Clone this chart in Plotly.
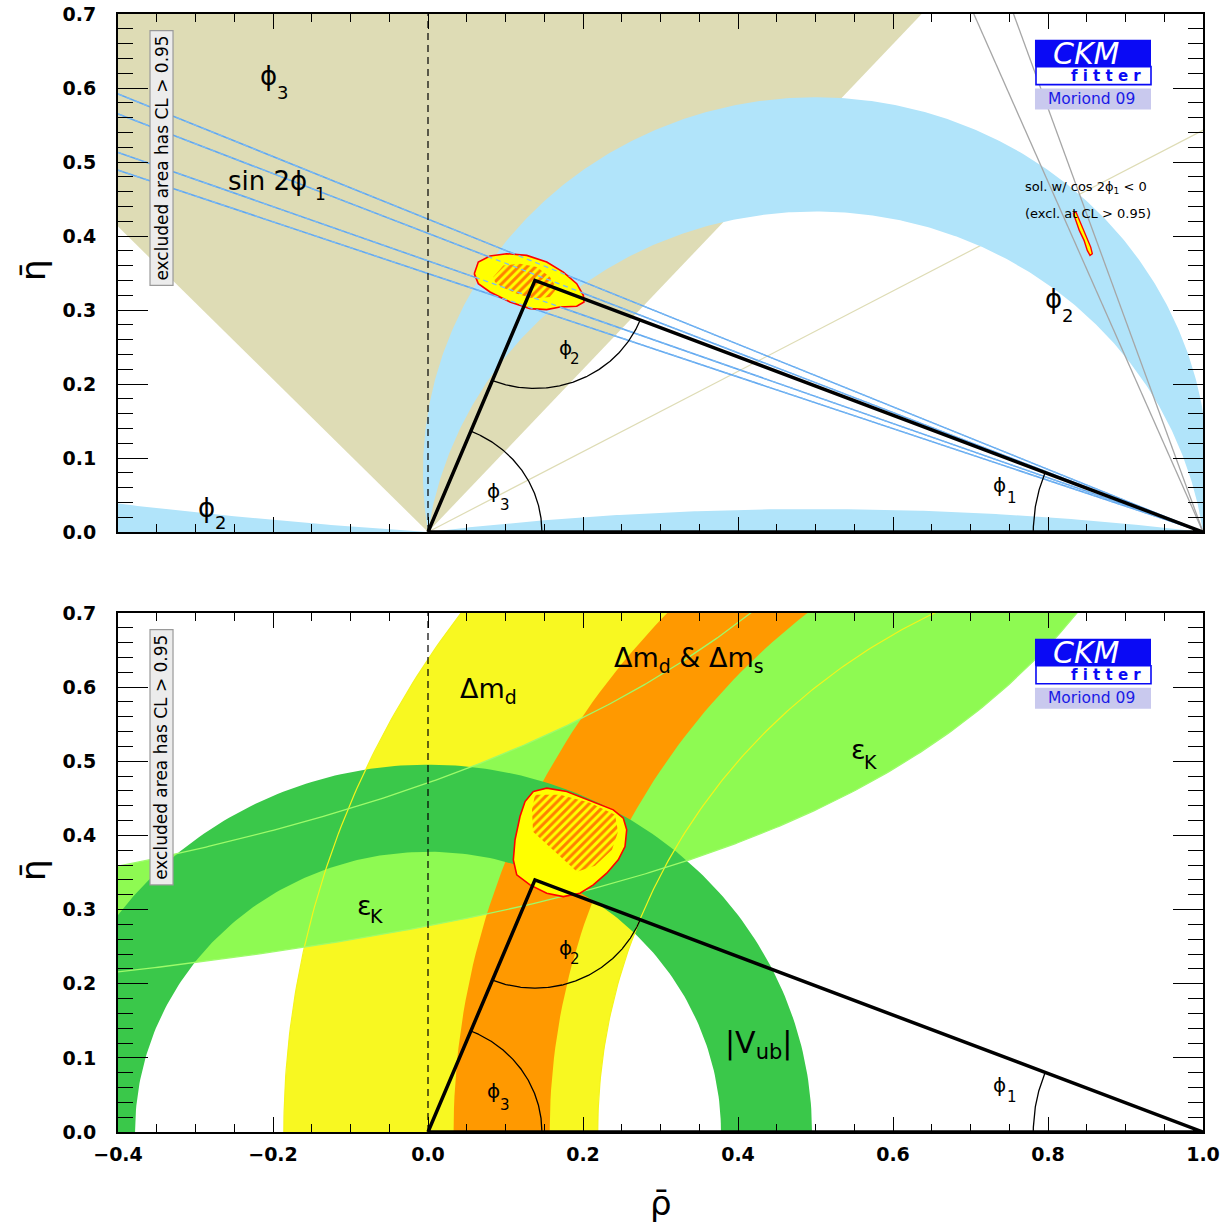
import numpy as np
import plotly.graph_objects as go

# ---------------- data ----------------
X_RANGE = [-0.4, 1.0]
Y_RANGE = [0.0, 0.7]

apex = [0.138, 0.340]                      # (rho, eta) of the triangle apex
arc_radius = {"phi3": 0.147, "phi2": 0.146, "phi1": 0.219}

# top panel constraints
gamma_wedge_deg = [47.7, 134.1]            # phi3 allowed wedge from origin
gamma_line_deg = 28.5                      # thin phi3 line
alpha_band_deg = [80.8, 98.2]              # phi2 band (inscribed angle)
alpha_lens_deg = 172.9                     # phi2 thin lens above axis
alpha_left_deg = 3.9                       # phi2 sliver for rho<0
sin2b_eta_left = [0.592, 0.565, 0.513, 0.489]   # sin2phi1 lines, eta at rho=-0.4
gray_beta_deg = [67.1, 70.75]              # cos2phi1<0 solution lines

blob_top_rho = [0.0597, 0.0649, 0.0800, 0.1015, 0.1274, 0.1532, 0.1746, 0.1919, 0.2004,
                0.2013, 0.1919, 0.1703, 0.1532, 0.1316, 0.1058, 0.0800, 0.0649]
blob_top_eta = [0.3491, 0.3648, 0.3729, 0.3761, 0.3738, 0.3648, 0.3513, 0.3356, 0.3198,
                0.3108, 0.3050, 0.3040, 0.3005, 0.3019, 0.3108, 0.3243, 0.3356]
hatch_top_rho = [0.0843, 0.0972, 0.1187, 0.1403, 0.1574, 0.1661, 0.1574, 0.1359, 0.1145, 0.0951, 0.0865]
hatch_top_eta = [0.3445, 0.3603, 0.3626, 0.3580, 0.3445, 0.3289, 0.3175, 0.3154, 0.3221, 0.3310, 0.3378]
small_blob_rho = [0.8326, 0.8361, 0.8404, 0.8465, 0.8507, 0.8542, 0.8572, 0.8551, 0.8499, 0.8448, 0.8404, 0.8361]
small_blob_eta = [0.4309, 0.4211, 0.4076, 0.3941, 0.3806, 0.3738, 0.3761, 0.3850, 0.3985, 0.4099, 0.4233, 0.4323]

# bottom panel constraints
dmd_center, dmd_radii = [1.0, 0.0], [0.781, 1.186]
dms_center, dms_radii = [1.06, 0.0], [0.903, 1.027]
vub_center, vub_radii = [0.0, 0.0], [0.378, 0.4955]
epsK_upper = [0.599, 1.272]     # eta = K / (c - rho)
epsK_lower = [0.386, 1.389]

blob_bot_rho = [0.1359, 0.1532, 0.1790, 0.2133, 0.2391, 0.2520, 0.2564, 0.2542, 0.2455, 0.2306,
                0.2133, 0.1961, 0.1746, 0.1532, 0.1316, 0.1145, 0.1101, 0.1123, 0.1187, 0.1252]
blob_bot_eta = [0.4592, 0.4638, 0.4592, 0.4457, 0.4345, 0.4233, 0.4076, 0.3850, 0.3671, 0.3491,
                0.3333, 0.3221, 0.3175, 0.3221, 0.3333, 0.3468, 0.3671, 0.3941, 0.4255, 0.4457]
hatch_bot_rho = [0.1381, 0.1703, 0.2090, 0.2413, 0.2452, 0.2374, 0.2155, 0.1923, 0.1639, 0.1355, 0.1342]
hatch_bot_eta = [0.4548, 0.4548, 0.4440, 0.4278, 0.4049, 0.3806, 0.3590, 0.3509, 0.3779, 0.4049, 0.4345]

# labels with a low subscript: (main, sub, main xy, sub xy, main size, sub size)
phi_labels_top = [
    ("\u03d5", "3", (-0.2194, 0.6161), (-0.1974, 0.5945), 26, 18),
    ("sin 2\u03d5", "1", (-0.2606, 0.4737), (-0.1484, 0.4561), 26, 17),
    ("\u03d5", "2", (0.7935, 0.3144), (0.8155, 0.2922), 26, 18),
    ("\u03d5", "2", (-0.2994, 0.0331), (-0.2774, 0.0128), 26, 18),
]
phi_labels_both = [
    ("\u03d5", "2", (0.1661, 0.2483), (0.1806, 0.2335), 20, 15),
    ("\u03d5", "3", (0.0735, 0.0553), (0.0903, 0.0364), 20, 15),
    ("\u03d5", "1", (0.7265, 0.0634), (0.7445, 0.0466), 20, 15),
]
eps_labels = [
    ("\u03b5", "K", (0.5428, 0.5162), (0.5600, 0.4993), 27, 19),
    ("\u03b5", "K", (-0.0942, 0.3055), (-0.0774, 0.2915), 27, 19),
]

# colours
TAN = "#dedcb5"
LBLUE = "#b1e4fa"
BLUE_LINE = "#5fa6f0"
GRAY = "#a6a6a6"
YEL = "#f8f821"
ORANGE = "#ff9900"
LGREEN = "#8efa52"
DGREEN = "#3ac84a"
FONT = "DejaVu Sans"

fig = go.Figure()


def ax(row):
    return ("x", "y") if row == 1 else ("x2", "y2")


def poly(xs, ys, color, row, line=None, pattern=None):
    xa, ya = ax(row)
    kw = dict(x=list(xs), y=list(ys), mode="lines", fill="toself", fillcolor=color,
              line=line or dict(width=0, color=color), hoverinfo="skip",
              showlegend=False, xaxis=xa, yaxis=ya)
    if pattern:
        kw["fillpattern"] = pattern
    fig.add_trace(go.Scatter(**kw))


def line(xs, ys, color, width, row, dash=None):
    xa, ya = ax(row)
    fig.add_trace(go.Scatter(x=list(xs), y=list(ys), mode="lines",
                             line=dict(color=color, width=width, dash=dash),
                             hoverinfo="skip", showlegend=False, xaxis=xa, yaxis=ya))


def arc(cx, cy, r, a0, a1, n=200):
    t = np.linspace(a0, a1, n)
    return cx + r * np.cos(t), cy + r * np.sin(t)


def chord_circle(alpha_deg):
    a = np.radians(alpha_deg)
    return 0.5 / np.tan(a), 0.5 / np.sin(a)


def annulus(center, radii, color, row):
    cx, cy = center
    xo, yo = arc(cx, cy, radii[1], 0, np.pi)
    xi, yi = arc(cx, cy, radii[0], np.pi, 0)
    poly(np.r_[xo, xi], np.r_[yo, yi], color, row)


HATCH = dict(shape="/", fgcolor="#ff0000", bgcolor="#ffff00", size=6, solidity=0.5)

# ================= TOP PANEL =================
g0, g1 = np.radians(gamma_wedge_deg)
poly([0, 3 * np.cos(g0), 3 * np.cos(g1), 0], [0, 3 * np.sin(g0), 3 * np.sin(g1), 0], TAN, 1)
gl = np.radians(gamma_line_deg)
line([0, 2 * np.cos(gl)], [0, 2 * np.sin(gl)], TAN, 1.2, 1)

k_o, r_o = chord_circle(alpha_band_deg[0])
k_i, r_i = chord_circle(alpha_band_deg[1])
th_o = np.arctan2(-k_o, 0.5)
th_i = np.arctan2(-k_i, 0.5)
xo, yo = arc(0.5, k_o, r_o, th_o, np.pi - th_o, 400)
xi, yi = arc(0.5, k_i, r_i, np.pi - th_i, th_i, 400)
poly(np.r_[xo, xi], np.r_[yo, yi], LBLUE, 1)
k_l, r_l = chord_circle(alpha_lens_deg)
th_l = np.arctan2(-k_l, 0.5)
xl, yl = arc(0.5, k_l, r_l, th_l, np.pi - th_l, 300)
poly(xl, yl, LBLUE, 1)
k_s, r_s = chord_circle(alpha_left_deg)
th_s0 = np.arctan2(-k_s, -0.5)
xs_, ys_ = arc(0.5, k_s, r_s, th_s0, th_s0 - 0.17, 200)
poly(np.r_[xs_, xs_[-1], 0], np.r_[ys_, 0, 0], LBLUE, 1)

for b in gray_beta_deg:
    br = np.radians(b)
    line([1, 1 - np.cos(br)], [0, np.sin(br)], GRAY, 1.3, 1)

for e in sin2b_eta_left:
    line([X_RANGE[0], 1.0], [e, 0.0], BLUE_LINE, 1.5, 1)

poly(blob_top_rho + blob_top_rho[:1], blob_top_eta + blob_top_eta[:1], "#ffff00", 1,
     line=dict(color="#ff0000", width=1.6))
poly(hatch_top_rho + hatch_top_rho[:1], hatch_top_eta + hatch_top_eta[:1], "#ffff00", 1,
     line=dict(width=0, color="#ffff00"), pattern=HATCH)
for e in sin2b_eta_left:
    line([X_RANGE[0], 1.0], [e, 0.0], "#7cbaf2", 1.3, 1, dash="5px,4px")

poly(small_blob_rho + small_blob_rho[:1], small_blob_eta + small_blob_eta[:1], "#ffff00", 1,
     line=dict(color="#ff0000", width=1.4))

# ================= BOTTOM PANEL =================
annulus(dmd_center, dmd_radii, YEL, 2)
K1, c1 = epsK_upper
K2, c2 = epsK_lower
top_eta = 0.75
ru = np.linspace(-0.45, c1 - K1 / top_eta, 300)
rl = np.linspace(c2 - K2 / top_eta, -0.45, 300)
poly(np.r_[ru, rl], np.r_[K1 / (c1 - ru), K2 / (c2 - rl)], LGREEN, 2)
annulus(dms_center, dms_radii, ORANGE, 2)
annulus(vub_center, vub_radii, DGREEN, 2)
for R in dmd_radii:
    xe, ye = arc(dmd_center[0], dmd_center[1], R, 0, np.pi, 400)
    line(xe, ye, "#f4f41c", 1.2, 2)
line(ru, K1 / (c1 - ru), "#9dfb6a", 1.3, 2)
line(rl, K2 / (c2 - rl), "#9dfb6a", 1.3, 2)

poly(blob_bot_rho + blob_bot_rho[:1], blob_bot_eta + blob_bot_eta[:1], "#ffff00", 2,
     line=dict(color="#ff0000", width=1.6))
poly(hatch_bot_rho + hatch_bot_rho[:1], hatch_bot_eta + hatch_bot_eta[:1], "#ffff00", 2,
     line=dict(width=0, color="#ffff00"), pattern=HATCH)

# ================= COMMON =================
ax_, ay_ = apex
ang_apex = np.arctan2(ay_, ax_)
ang_b = np.arctan2(ay_, 1 - ax_)
for row in (1, 2):
    line([0, 0], Y_RANGE, "black", 1.2, row, dash="7px,5px")
    line([0, ax_, 1, 0], [0, ay_, 0, 0], "black", 3.5, row)
    x3, y3 = arc(0, 0, arc_radius["phi3"], 0, ang_apex)
    line(x3, y3, "black", 1.3, row)
    a_to_o = np.arctan2(-ay_, -ax_) + 2 * np.pi
    a_to_1 = np.arctan2(-ay_, 1 - ax_) + 2 * np.pi
    x2_, y2_ = arc(ax_, ay_, arc_radius["phi2"], a_to_o, a_to_1)
    line(x2_, y2_, "black", 1.3, row)
    x1_, y1_ = arc(1, 0, arc_radius["phi1"], np.pi - ang_b, np.pi)
    line(x1_, y1_, "black", 1.3, row)

# ================= layout =================
H, W = 1223, 1224
mt, mb, ml, mr = 14, 91, 118, 21
plot_h = H - mt - mb
top_dom = [(1132 - 532) / plot_h, 1.0]
bot_dom = [0.0, (1132 - 613) / plot_h]

xcommon = dict(range=X_RANGE, showgrid=False, zeroline=False, showline=True, linecolor="black",
               linewidth=2, mirror="ticks", ticks="inside", ticklen=15, tickwidth=1.4,
               tickcolor="black", tickmode="linear", tick0=0, dtick=0.2, tickformat=".1f",
               minor=dict(dtick=0.05, tick0=0, ticklen=8, tickwidth=1.2, ticks="inside",
                          tickcolor="black", showgrid=False),
               tickfont=dict(family=FONT, size=19, color="black", weight="bold"),
               ticklabelstandoff=4, automargin=False)
ycommon = dict(range=Y_RANGE, showgrid=False, zeroline=False, showline=True, linecolor="black",
               linewidth=2, mirror="ticks", ticks="inside", ticklen=30, tickwidth=1.4,
               tickcolor="black", tickmode="linear", tick0=0, dtick=0.1, tickformat=".1f",
               minor=dict(dtick=0.02, tick0=0, ticklen=15, tickwidth=1.2, ticks="inside",
                          tickcolor="black", showgrid=False),
               tickfont=dict(family=FONT, size=19, color="black", weight="bold"),
               ticklabelstandoff=16, automargin=False)

fig.update_layout(
    width=W, height=H, margin=dict(l=ml, r=mr, t=mt, b=mb, autoexpand=False),
    paper_bgcolor="white", plot_bgcolor="white", showlegend=False,
    xaxis=dict(xcommon, anchor="y", domain=[0, 1], showticklabels=False),
    yaxis=dict(ycommon, anchor="x", domain=top_dom),
    xaxis2=dict(xcommon, anchor="y2", domain=[0, 1]),
    yaxis2=dict(ycommon, anchor="x2", domain=bot_dom),
)

ann = []
shapes = []


def txt(x, y, s, size, row, xanchor="left", yanchor="middle", color="black", angle=0, **font):
    xa, ya = ax(row)
    ann.append(dict(x=x, y=y, xref=xa, yref=ya, text=s, showarrow=False, xanchor=xanchor,
                    yanchor=yanchor, textangle=angle,
                    font=dict(family=FONT, size=size, color=color, **font)))


def sublabel(spec, row):
    main, sub, mxy, sxy, ms, ss = spec
    txt(mxy[0], mxy[1], main, ms, row)
    txt(sxy[0], sxy[1], sub, ss, row)


for row in (1, 2):
    xa, ya = ax(row)
    shapes.append(dict(type="rect", xref=xa, yref=ya, x0=-0.3587, x1=-0.3290, y0=0.3333, y1=0.6775,
                       fillcolor="#ececec", line=dict(color="#9a9a9a", width=1.2)))
    txt(-0.3438, 0.5054, "excluded area has CL > 0.95", 17, row, xanchor="center", angle=-90)
    shapes.append(dict(type="rect", xref=xa, yref=ya, x0=0.7832, x1=0.9329, y0=0.6289, y1=0.6653,
                       fillcolor="#0a0af5", line=dict(width=0)))
    shapes.append(dict(type="rect", xref=xa, yref=ya, x0=0.7845, x1=0.9329, y0=0.6045, y1=0.6289,
                       fillcolor="white", line=dict(color="#0a0af5", width=1.6)))
    shapes.append(dict(type="rect", xref=xa, yref=ya, x0=0.7832, x1=0.9329, y0=0.5709, y1=0.5992,
                       fillcolor="#c9c9ee", line=dict(width=0)))
    txt(0.850, 0.6471, "CKM", 30, row, xanchor="center", color="white", style="italic")
    txt(0.8742, 0.6162, "f i t t e r", 15, row, xanchor="center", color="#0a0af5", weight="bold")
    txt(0.8555, 0.5850, "Moriond 09", 15.5, row, xanchor="center", color="#1a1ae6")
    for spec in phi_labels_both:
        sublabel(spec, row)

for spec in phi_labels_top:
    sublabel(spec, 1)
txt(0.7674, 0.4660, "sol. w/ cos 2\u03d5<sub>1</sub> < 0", 13, 1)
txt(0.7674, 0.4309, "(excl. at CL > 0.95)", 13, 1)

txt(0.0387, 0.5951, "\u0394m<sub>d</sub>", 27, 2)
txt(0.2374, 0.6370, "\u0394m<sub>d</sub> & \u0394m<sub>s</sub>", 27, 2)
for spec in eps_labels:
    sublabel(spec, 2)
txt(0.3806, 0.1174, "|V<sub>ub</sub>|", 30, 2)


def paper_x(px):
    return (px - ml) / (W - ml - mr)


def paper_y(py):
    return (H - mb - py) / plot_h


for py in (270, 870):
    ann.append(dict(x=paper_x(33), y=paper_y(py), xref="paper", yref="paper", text="\u03b7\u0304",
                    showarrow=False, xanchor="center", yanchor="middle", textangle=-90,
                    font=dict(family=FONT, size=34, color="black")))
ann.append(dict(x=paper_x(661), y=paper_y(1203), xref="paper", yref="paper", text="\u03c1\u0304",
                showarrow=False, xanchor="center", yanchor="middle",
                font=dict(family=FONT, size=34, color="black")))

fig.update_layout(annotations=ann, shapes=shapes)
fig.write_html("out.html", config={"displayModeBar": False},
               post_script="document.body.style.margin='0px';document.body.style.overflow='hidden';")
